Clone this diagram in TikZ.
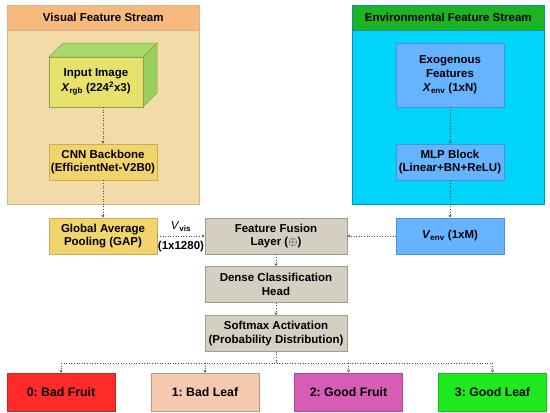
\documentclass[tikz,border=0pt]{standalone}
\usepackage{fontspec}
\setmainfont{Liberation Sans}
\usetikzlibrary{arrows.meta}
\frenchspacing
\definecolor{vhead}{HTML}{F8BA7C}
\definecolor{vbody}{HTML}{F2DBA6}
\definecolor{ehead}{HTML}{1DB423}
\definecolor{ebody}{HTML}{00D4FA}
\definecolor{gold}{HTML}{F2D46C}
\definecolor{goldb}{HTML}{C9AE55}
\definecolor{tan}{HTML}{D5CEC3}
\definecolor{tanb}{HTML}{A49B8E}
\definecolor{bluebox}{HTML}{66B3FF}
\definecolor{blueb}{HTML}{4A92D8}
\definecolor{cubefront}{HTML}{E6E26C}
\definecolor{cubetop}{HTML}{A8D96C}
\definecolor{cubeside}{HTML}{98CE5E}
\definecolor{cubeb}{HTML}{8E9E55}
\definecolor{ored}{HTML}{FF2A2A}
\definecolor{opeach}{HTML}{F5C9AF}
\definecolor{omag}{HTML}{D65CB6}
\definecolor{ogreen}{HTML}{1FEA1F}
\begin{document}
\begin{tikzpicture}[x=1pt,y=-1pt,
  every node/.style={font=\bfseries\fontsize{11.5}{13.5}\selectfont, align=center, inner sep=0pt},
  panel/.style={anchor=north west, line width=0.5pt},
  box/.style={draw, line width=0.6pt, minimum width=108pt, minimum height=36pt},
  goldbox/.style={box, fill=gold, draw=goldb},
  tanbox/.style={box, fill=tan, draw=tanb, minimum width=142pt},
  bluebx/.style={box, fill=bluebox, draw=blueb},
  outbox/.style={box, minimum width=108pt, minimum height=38pt, font=\bfseries\fontsize{12.3}{14}\selectfont},
  conn/.style={draw=black!70, dotted, line width=0.6pt, -{Stealth[length=3pt,width=3pt]}},
  plain/.style={draw=black!70, dotted, line width=0.6pt}]
\useasboundingbox (0,0) rectangle (550,413);
% panels
\node[panel, fill=vbody, draw=vhead!70!black!60, minimum width=192pt, minimum height=199pt] (vpanel) at (7,5) {};
\node[panel, fill=vhead, draw=vhead!70!black!60, minimum width=192pt, minimum height=25pt] (vheader) at (7,5) {Visual Feature Stream};
\node[panel, fill=ebody, draw=ebody!70!black, minimum width=192pt, minimum height=199pt] (epanel) at (352,5) {};
\node[panel, fill=ehead, draw=ebody!70!black, minimum width=192pt, minimum height=25pt] (eheader) at (352,5) {Environmental Feature Stream};
% cube
\filldraw[fill=cubetop, draw=cubeb, line width=0.5pt] (49,57) -- (63,43) -- (157,43) -- (143,57) -- cycle;
\filldraw[fill=cubeside, draw=cubeb, line width=0.5pt] (143,57) -- (157,43) -- (157,93) -- (143,107) -- cycle;
\node[draw=cubeb, fill=cubefront, line width=0.5pt, minimum width=94pt, minimum height=50pt] (inp) at (96,82)
  {Input Image\\[2pt]\textit{X}\textsubscript{\fontsize{8}{8}\selectfont rgb} (224\textsuperscript{\fontsize{8}{8}\selectfont 2}x3)};
% visual stream
\node[goldbox] (cnn) at (103,162) {CNN Backbone\\(EfficientNet-V2B0)};
\node[goldbox] (gap) at (103,236) {Global Average\\Pooling (GAP)};
% env stream
\node[bluebx, minimum height=64pt] (exo) at (450,75) {Exogenous\\Features\\[1pt]\textit{X}\textsubscript{\fontsize{8}{8}\selectfont env} (1xN)};
\node[bluebx] (mlp) at (450,162) {MLP Block\\(Linear+BN+ReLU)};
\node[bluebx] (venv) at (450,236) {\textit{V}\textsubscript{\fontsize{8}{8}\selectfont env} (1xM)};
% center
\node[tanbox] (fus) at (276,236) {Feature Fusion\\Layer (\textnormal{\fontsize{12}{12}\selectfont$\oplus$})};
\node[tanbox] (dense) at (276,284.5) {Dense Classification\\Head};
\node[tanbox] (soft) at (276,333.5) {Softmax Activation\\(Probability Distribution)};
% outputs
\node[outbox, fill=ored, draw=ored!80!black] (o0) at (61,392) {0: Bad Fruit};
\node[outbox, fill=opeach, draw=opeach!75!black] (o1) at (205,392) {1: Bad Leaf};
\node[outbox, fill=omag, draw=omag!80!black] (o2) at (348.5,392) {2: Good Fruit};
\node[outbox, fill=ogreen, draw=ogreen!80!black] (o3) at (492.5,392) {3: Good Leaf};
% connectors
\draw[conn] (inp.south -| cnn.north) -- (cnn.north);
\draw[conn] (cnn) -- (gap);
\draw[conn] (exo) -- (mlp);
\draw[conn] (mlp) -- (venv);
\draw[conn] (gap) -- (fus) node[pos=0.5, above=4pt, font=\fontsize{11.5}{13}\selectfont] {\textit{V}\textsubscript{\bfseries\fontsize{8}{8}\selectfont vis}}
  node[pos=0.5, below=5pt] {(1x1280)};
\draw[conn] (venv) -- (fus);
\draw[conn] (fus) -- (dense);
\draw[conn] (dense) -- (soft);
\coordinate (br) at (276,363);
\draw[plain] (soft.south) -- (br);
\draw[plain] (br -| o0.north) -- (br -| o3.north);
\foreach \o in {o0,o1,o2,o3} \draw[conn] (br -| \o.north) -- (\o.north);
\end{tikzpicture}
\end{document}
